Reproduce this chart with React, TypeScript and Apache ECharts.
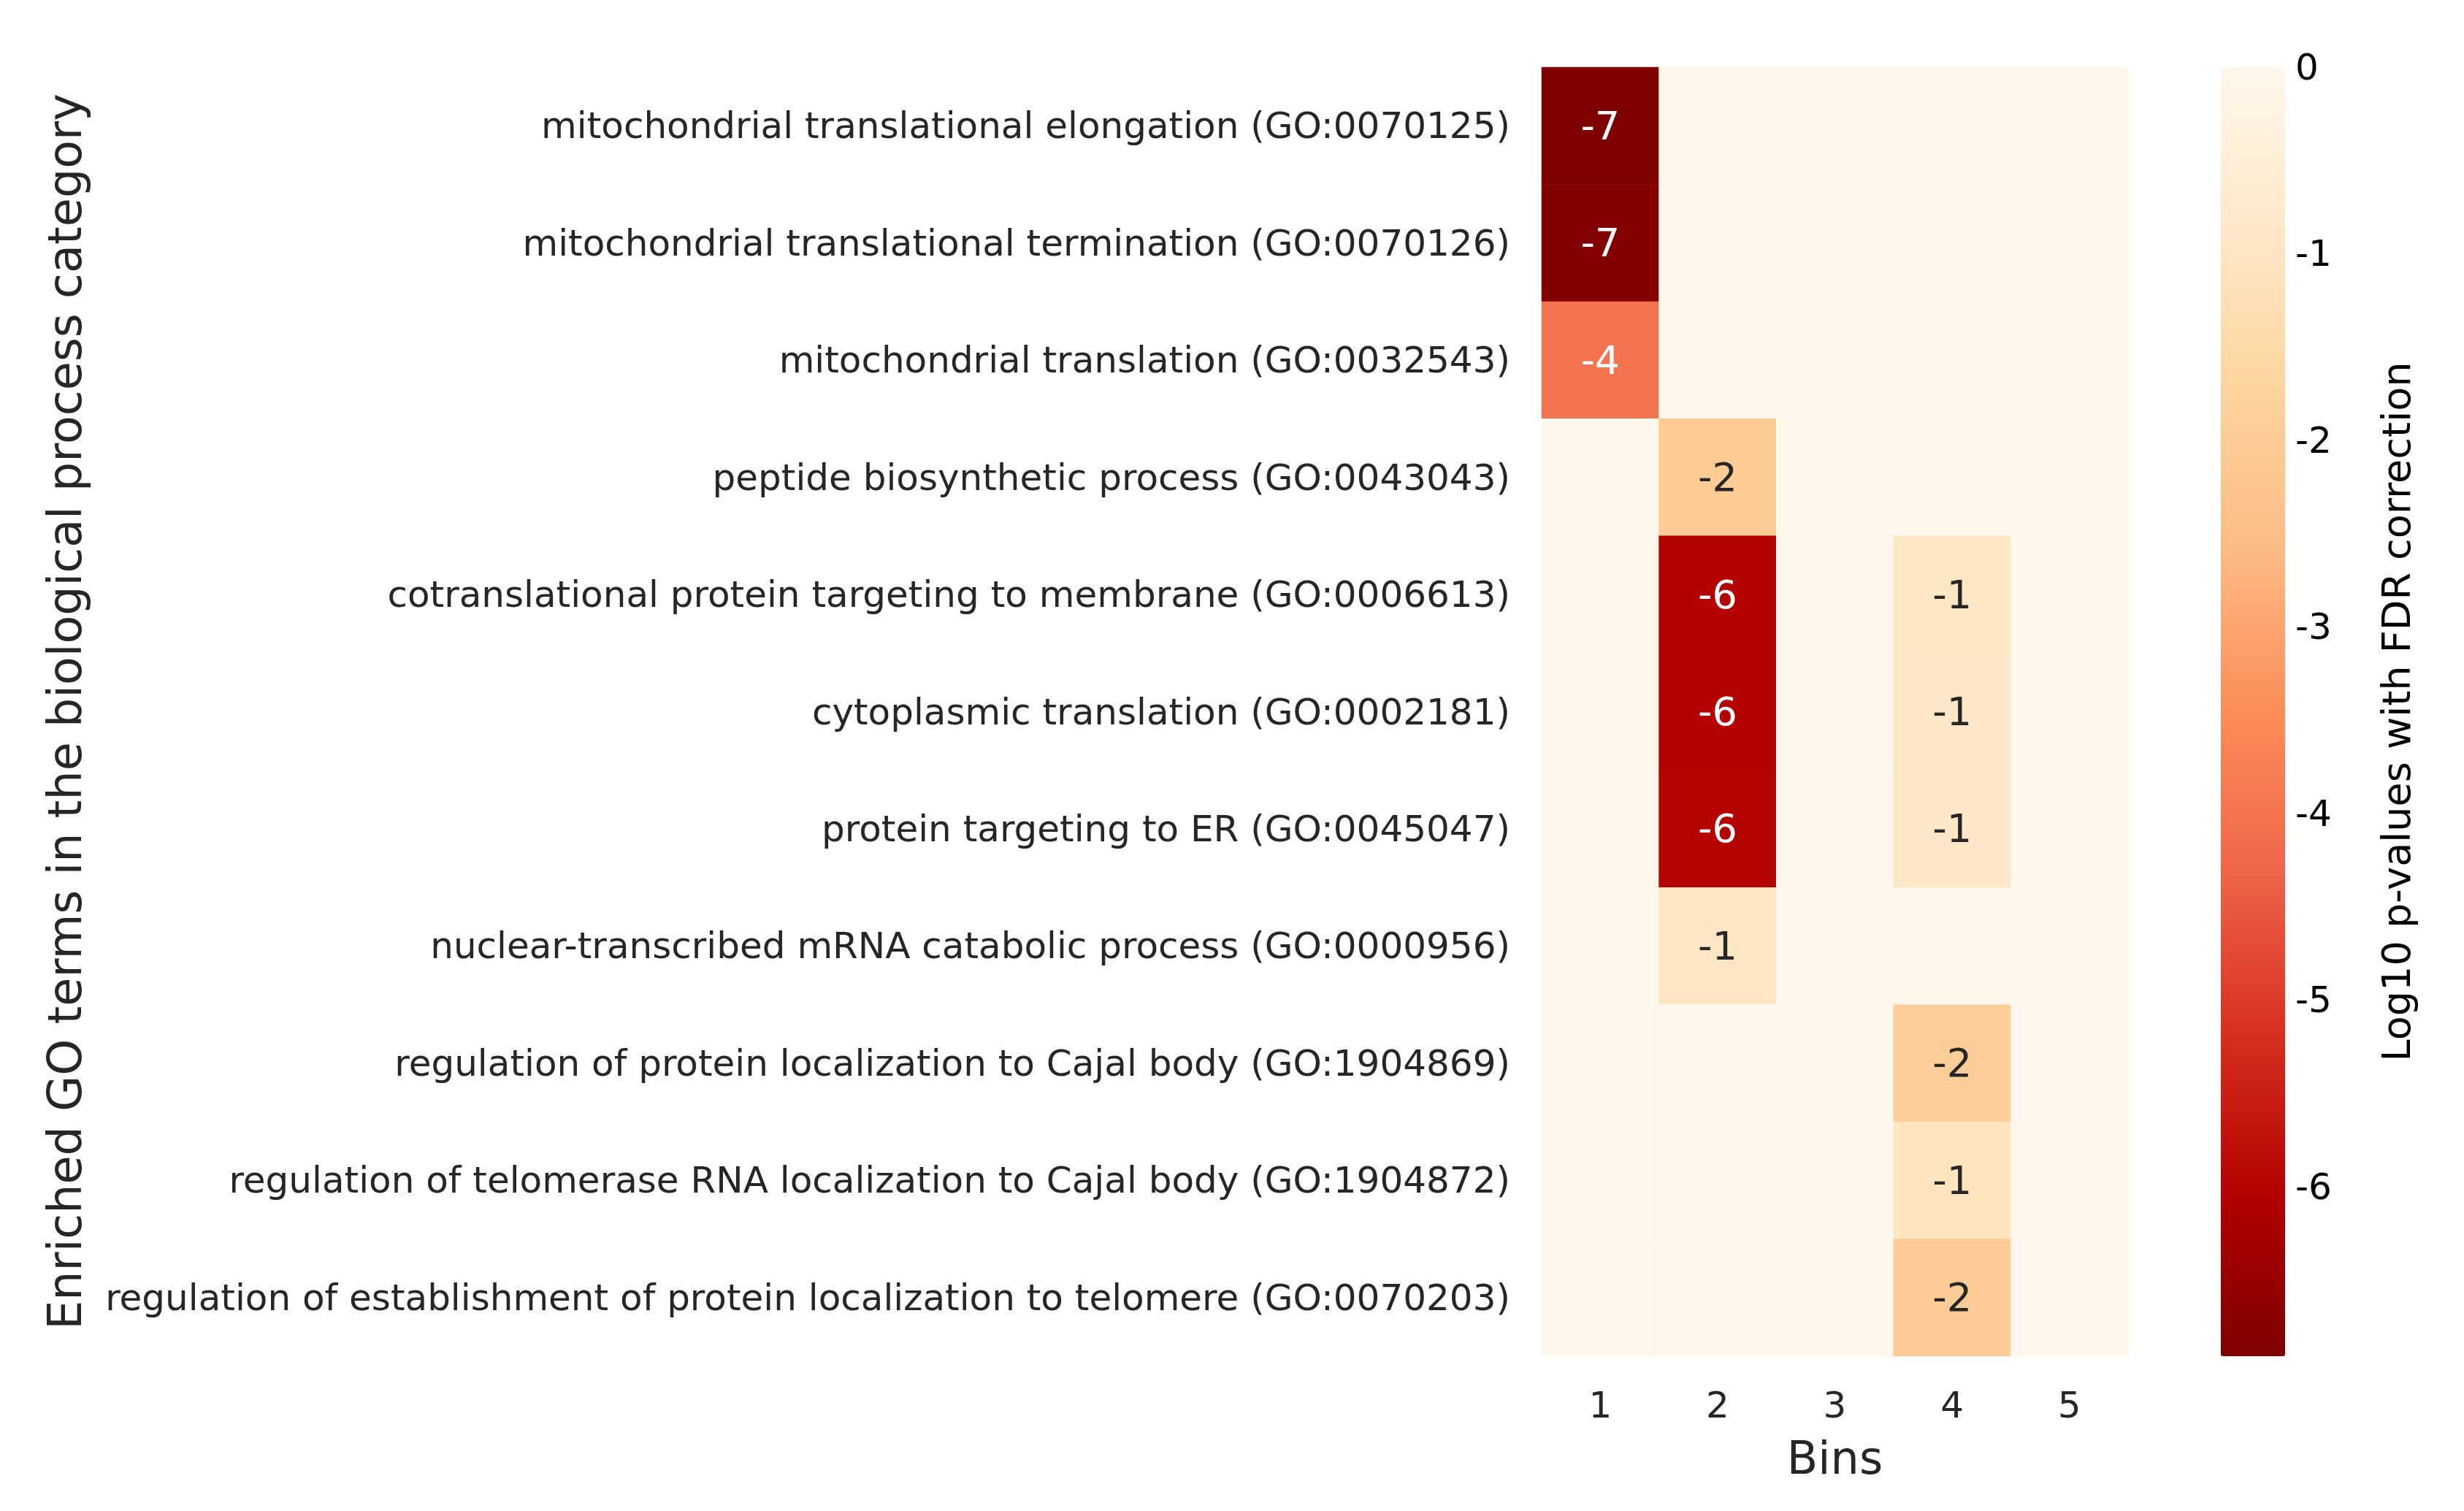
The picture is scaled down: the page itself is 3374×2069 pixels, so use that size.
import React, { useEffect, useRef } from "react";
import * as echarts from "echarts";

const goTerms: string[] = [
  "mitochondrial translational elongation (GO:0070125)",
  "mitochondrial translational termination (GO:0070126)",
  "mitochondrial translation (GO:0032543)",
  "peptide biosynthetic process (GO:0043043)",
  "cotranslational protein targeting to membrane (GO:0006613)",
  "cytoplasmic translation (GO:0002181)",
  "protein targeting to ER (GO:0045047)",
  "nuclear-transcribed mRNA catabolic process (GO:0000956)",
  "regulation of protein localization to Cajal body (GO:1904869)",
  "regulation of telomerase RNA localization to Cajal body (GO:1904872)",
  "regulation of establishment of protein localization to telomere (GO:0070203)",
];

const bins: string[] = ["1", "2", "3", "4", "5"];

// log10 p-values (FDR corrected), one array per bin, in GO term order
const bin1: number[] = [-6.91, -6.86, -4.02, 0, 0, 0, 0, 0, 0, 0, 0];
const bin2: number[] = [0, 0, 0, -2.05, -6.03, -6.02, -6.0, -0.93, 0, 0, 0];
const bin3: number[] = [0, 0, 0, 0, 0, 0, 0, 0, 0, 0, 0];
const bin4: number[] = [0, 0, 0, 0, -0.92, -0.9, -0.9, 0, -1.97, -1.05, -2.0];
const bin5: number[] = [0, 0, 0, 0, 0, 0, 0, 0, 0, 0, 0];

const colorbarTicks: number[] = [0, -1, -2, -3, -4, -5, -6];
const vMin = -6.91;
const vMax = 0;

const orRdReversed = [
  "#7f0000",
  "#b30000",
  "#d7301f",
  "#ef6548",
  "#fc8d59",
  "#fdbb84",
  "#fdd49e",
  "#fee8c8",
  "#fff7ec",
];

const FONT = "DejaVu Sans";
const TEXT = "#262626";

export default function App() {
  const ref = useRef<HTMLDivElement>(null);

  useEffect(() => {
    document.body.style.margin = "0";
    if (!ref.current) return;
    const chart = echarts.init(ref.current, null, { renderer: "svg" });

    const columns = [bin1, bin2, bin3, bin4, bin5];
    const data: any[] = [];
    columns.forEach((col, xi) => {
      col.forEach((v, yi) => {
        data.push({
          value: [xi, yi, v],
          label: { color: v < -3.5 ? "#ffffff" : TEXT },
        });
      });
    });

    const gridLeft = 2111;
    const gridTop = 92;
    const gridW = 803;
    const gridH = 1765;
    const cbLeft = 3041;
    const cbW = 88;

    chart.setOption({
      animation: false,
      backgroundColor: "#ffffff",
      textStyle: { fontFamily: FONT },
      grid: [
        { left: gridLeft, top: gridTop, width: gridW, height: gridH },
        { left: cbLeft, top: gridTop, width: cbW, height: gridH },
      ],
      xAxis: [
        {
          type: "category",
          gridIndex: 0,
          data: bins,
          position: "bottom",
          axisLine: { show: false },
          axisTick: { show: false },
          splitLine: { show: false },
          axisLabel: { fontSize: 50, color: TEXT, margin: 42, fontFamily: FONT },
          name: "Bins",
          nameLocation: "middle",
          nameGap: 108,
          nameTextStyle: { fontSize: 62, color: TEXT, fontFamily: FONT },
        },
        {
          type: "value",
          gridIndex: 1,
          show: false,
          min: 0,
          max: 1,
        },
      ],
      yAxis: [
        {
          type: "category",
          gridIndex: 0,
          data: goTerms,
          inverse: true,
          axisLine: { show: false },
          axisTick: { show: false },
          splitLine: { show: false },
          axisLabel: {
            fontSize: 50,
            color: TEXT,
            margin: 43,
            fontFamily: FONT,
            padding: [0, 0, 8, 0],
          },
          name: "Enriched GO terms in the biological process category",
          nameLocation: "middle",
          nameRotate: 90,
          nameGap: 1990,
          nameTextStyle: { fontSize: 63.5, color: TEXT, fontFamily: FONT },
        },
        {
          type: "value",
          gridIndex: 1,
          position: "right",
          min: vMin,
          max: vMax,
          axisLine: { show: false },
          axisTick: { show: false },
          splitLine: { show: false },
          axisLabel: {
            fontSize: 50,
            color: "#000000",
            margin: 14,
            fontFamily: FONT,
            customValues: colorbarTicks,
            formatter: (v: number) => String(Math.round(v)),
          },
          name: "Log10 p-values with FDR correction",
          nameLocation: "middle",
          nameRotate: 90,
          nameGap: 125,
          nameTextStyle: { fontSize: 54, color: "#000000", fontFamily: FONT },
        },
      ],
      visualMap: {
        type: "continuous",
        min: vMin,
        max: vMax,
        calculable: false,
        orient: "vertical",
        left: cbLeft,
        top: gridTop,
        itemWidth: cbW,
        itemHeight: gridH,
        padding: 0,
        text: null,
        seriesIndex: 0,
        inRange: { color: orRdReversed },
      },
      series: [
        {
          type: "heatmap",
          xAxisIndex: 0,
          yAxisIndex: 0,
          data,
          label: {
            show: true,
            fontSize: 54,
            fontFamily: FONT,
            padding: [0, 0, 8, 0],
            formatter: (p: any) => {
              const v = p.value[2];
              if (v === 0) return "";
              return String(Math.round(v));
            },
          },
          itemStyle: { borderWidth: 0 },
          emphasis: { disabled: true },
        },
      ],
    });

    return () => chart.dispose();
  }, []);

  return <div ref={ref} style={{ width: "3374px", height: "2069px" }} />;
}
